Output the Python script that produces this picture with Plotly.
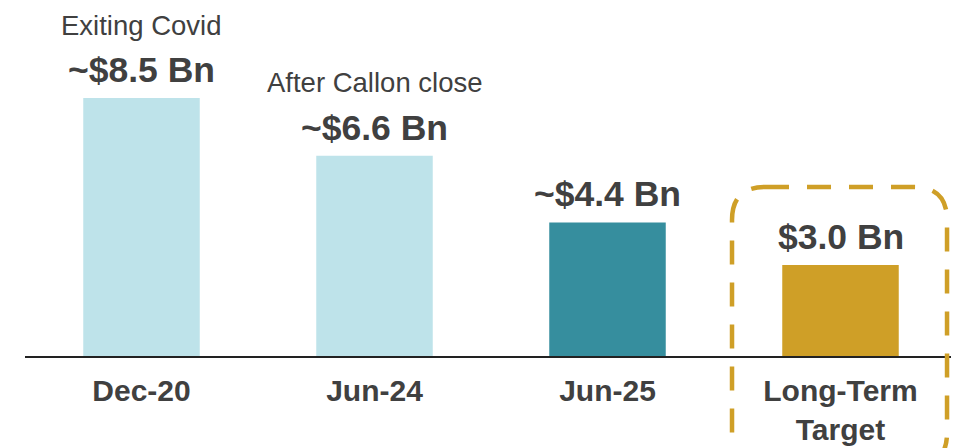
import plotly.graph_objects as go

categories = ["Dec-20", "Jun-24", "Jun-25", "Long-Term<br>Target"]
values = [8.5, 6.6, 4.4, 3.0]
value_labels = ["~$8.5 Bn", "~$6.6 Bn", "~$4.4 Bn", "$3.0 Bn"]
notes = ["Exiting Covid", "After Callon close", "", ""]
bar_colors = ["#BEE3EA", "#BEE3EA", "#368E9E", "#CF9F27"]

FONT = "Arial, 'Liberation Sans', sans-serif"
TEXT = "#404040"

fig = go.Figure()
fig.add_trace(go.Bar(
    x=categories, y=values,
    marker=dict(color=bar_colors, line=dict(width=0)),
    width=0.5, hoverinfo="skip",
))

annotations = []
for c, v, lab, note in zip(categories, values, value_labels, notes):
    annotations.append(dict(
        x=c, y=v, xref="x", yref="y", text="<b>" + lab + "</b>",
        showarrow=False, yanchor="middle", yshift=28,
        font=dict(family=FONT, size=35.5, color=TEXT),
    ))
    if note:
        annotations.append(dict(
            x=c, y=v, xref="x", yref="y", text=note,
            showarrow=False, yanchor="middle", yshift=73,
            font=dict(family=FONT, size=27.5, color=TEXT),
        ))

# dashed rounded box around the target category (paper coordinates)
x0, x1 = 0.7586, 0.9893
y0, y1 = -0.316, 0.4856
rx, ry = 0.0354, 0.0948
path = (f"M {x0+rx},{y1} L {x1-rx},{y1} Q {x1},{y1} {x1},{y1-ry} "
        f"L {x1},{y0+ry} Q {x1},{y0} {x1-rx},{y0} L {x0+rx},{y0} "
        f"Q {x0},{y0} {x0},{y0+ry} L {x0},{y1-ry} Q {x0},{y1} {x0+rx},{y1} Z")

fig.update_layout(
    width=951, height=440,
    margin=dict(l=17, r=2, t=0, b=92),
    paper_bgcolor="white", plot_bgcolor="white",
    showlegend=False,
    annotations=annotations,
    shapes=[dict(type="path", path=path, xref="paper", yref="paper",
                 line=dict(color="#CF9F27", width=4.5, dash="24px,18px"),
                 fillcolor="rgba(0,0,0,0)", layer="above")],
    xaxis=dict(
        showline=True, linecolor="#222222", linewidth=1.5,
        showgrid=False, zeroline=False, automargin=False,
        ticks="outside", ticklen=7, tickcolor="rgba(0,0,0,0)",
        tickfont=dict(family=FONT, size=30, color=TEXT),
        tickvals=categories, ticktext=["<b>" + c + "</b>" for c in categories],
        fixedrange=True,
    ),
    yaxis=dict(visible=False, range=[0, 11.466], fixedrange=True, automargin=False),
)

fig.write_html("out.html")
